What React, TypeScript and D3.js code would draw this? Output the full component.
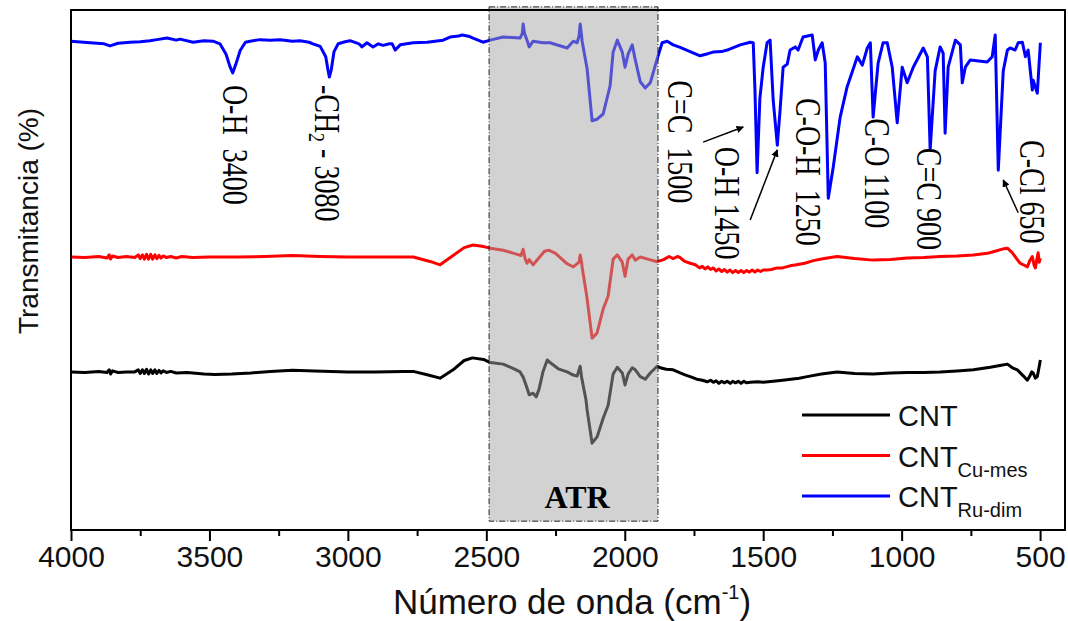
import React, { useRef, useEffect } from "react";
import * as d3 from "d3";

// wavenumber (cm-1), transmittance (a.u., offset per curve)
const cntData: [number, number][] = [
  [4000, 30.4], [3950, 30.3], [3900, 30.5], [3870, 30.3], [3862, 30.8], [3857, 30.0], [3850, 30.6],
  [3830, 30.3], [3800, 30.4], [3770, 30.4], [3757, 30.8], [3750, 30.1], [3742, 30.8], [3735, 30.1],
  [3727, 30.9], [3720, 30.0], [3712, 30.8], [3705, 30.1], [3697, 30.8], [3690, 30.1], [3682, 30.7],
  [3675, 30.2], [3667, 30.6], [3655, 30.3], [3640, 30.5], [3620, 30.2], [3580, 30.3], [3520, 30.0],
  [3480, 29.9], [3420, 30.0], [3350, 30.2], [3280, 30.5], [3200, 30.7], [3120, 30.6], [3000, 30.4],
  [2900, 30.4], [2800, 30.5], [2764, 30.5], [2710, 29.8], [2667, 29.2], [2620, 30.8], [2580, 32.6],
  [2550, 33.1], [2510, 32.8], [2486, 32.2], [2439, 31.9], [2400, 31.0], [2378, 30.4], [2367, 29.4],
  [2353, 27.3], [2345, 26.0], [2331, 26.3], [2320, 25.6], [2310, 27.0], [2295, 30.5], [2280, 32.7],
  [2270, 32.2], [2240, 31.0], [2208, 30.4], [2186, 29.8], [2172, 29.6], [2161, 31.5], [2156, 29.4],
  [2140, 25.0], [2136, 23.1], [2118, 16.7], [2100, 17.9], [2078, 21.5], [2060, 24.0], [2042, 30.0],
  [2027, 31.3], [2009, 30.2], [1999, 27.9], [1988, 30.0], [1973, 31.2], [1962, 30.8], [1944, 29.5],
  [1926, 29.0], [1908, 30.2], [1883, 31.5], [1872, 31.2], [1850, 30.9], [1825, 30.8], [1800, 30.2],
  [1780, 29.8], [1764, 29.5], [1740, 29.0], [1720, 28.8], [1702, 28.5], [1690, 28.8], [1680, 28.4],
  [1670, 28.7], [1660, 28.2], [1650, 28.6], [1640, 28.3], [1630, 28.6], [1619, 28.2], [1610, 28.6],
  [1600, 28.3], [1590, 28.6], [1580, 28.2], [1570, 28.6], [1560, 28.3], [1547, 28.4], [1520, 28.5],
  [1500, 28.4], [1464, 28.6], [1430, 28.8], [1400, 29.0], [1370, 29.2], [1341, 29.5], [1290, 30.0],
  [1233, 30.4], [1170, 30.1], [1103, 30.0], [1040, 30.2], [980, 30.3], [920, 30.3], [861, 30.4],
  [800, 30.6], [741, 30.8], [680, 31.3], [640, 31.7], [618, 31.9], [600, 31.2], [582, 30.8],
  [560, 29.6], [546, 28.8], [537, 29.6], [530, 30.4], [525, 30.2], [517, 29.2], [510, 29.5],
  [503, 31.5], [499, 32.7],
];

const cuMesData: [number, number][] = [
  [4000, 52.5], [3950, 52.4], [3900, 52.6], [3870, 52.3], [3862, 52.9], [3857, 52.1], [3850, 52.7],
  [3830, 52.4], [3800, 52.6], [3770, 52.4], [3757, 52.9], [3750, 52.2], [3742, 52.9], [3735, 52.1],
  [3727, 53.0], [3720, 52.1], [3712, 53.0], [3705, 52.1], [3697, 52.9], [3690, 52.2], [3682, 52.8],
  [3675, 52.3], [3667, 52.7], [3655, 52.4], [3640, 52.6], [3620, 52.3], [3600, 52.6], [3560, 52.4],
  [3500, 52.5], [3400, 52.5], [3300, 52.6], [3200, 52.8], [3100, 52.6], [3000, 52.5], [2900, 52.5],
  [2800, 52.5], [2764, 52.5], [2700, 51.6], [2667, 51.0], [2620, 52.8], [2580, 54.3], [2548, 54.8],
  [2510, 54.5], [2486, 54.2], [2439, 53.8], [2400, 53.2], [2375, 52.8], [2367, 54.0], [2360, 52.2],
  [2353, 51.3], [2345, 52.0], [2331, 51.0], [2290, 53.6], [2275, 53.8], [2250, 53.2], [2208, 51.2],
  [2186, 50.6], [2165, 51.5], [2161, 52.9], [2156, 51.5], [2154, 50.6], [2136, 44.5], [2118, 36.9],
  [2100, 37.9], [2078, 42.5], [2060, 45.0], [2042, 52.1], [2027, 52.9], [2009, 51.5], [1999, 48.8],
  [1988, 52.1], [1973, 52.9], [1962, 51.9], [1944, 52.5], [1910, 52.0], [1883, 51.6], [1860, 52.0],
  [1840, 52.6], [1825, 52.2], [1810, 52.6], [1800, 52.4], [1785, 51.7], [1764, 51.3], [1745, 51.0],
  [1730, 50.4], [1720, 50.7], [1710, 50.2], [1700, 50.6], [1690, 50.1], [1680, 50.4], [1670, 49.8],
  [1660, 50.2], [1650, 49.7], [1640, 50.1], [1630, 49.6], [1620, 50.0], [1610, 49.5], [1600, 49.9],
  [1590, 49.5], [1580, 49.9], [1570, 49.5], [1560, 49.9], [1550, 49.6], [1540, 50.0], [1530, 49.6],
  [1520, 50.0], [1510, 49.7], [1500, 50.0], [1486, 50.0], [1470, 50.1], [1450, 50.4], [1430, 50.4],
  [1403, 50.8], [1380, 51.0], [1350, 51.3], [1319, 51.8], [1280, 52.2], [1233, 52.6], [1170, 52.2],
  [1103, 51.9], [1040, 52.0], [980, 52.3], [920, 52.4], [861, 52.6], [800, 52.7], [741, 52.9],
  [690, 53.2], [669, 53.5], [630, 54.1], [618, 54.2], [600, 53.3], [585, 52.2], [572, 51.3],
  [560, 51.0], [546, 50.6], [537, 51.8], [528, 52.6], [522, 51.0], [517, 50.4], [512, 52.0],
  [507, 53.3], [503, 51.5], [499, 52.3],
];

const ruDimData: [number, number][] = [
  [4000, 94.0], [3931, 93.7], [3880, 93.5], [3859, 93.1], [3830, 93.6], [3787, 93.8], [3750, 93.9],
  [3715, 94.1], [3690, 94.3], [3653, 94.6], [3620, 94.2], [3606, 94.4], [3559, 93.8], [3520, 94.1],
  [3487, 94.0], [3462, 93.5], [3440, 91.5], [3425, 89.0], [3416, 87.9], [3405, 89.5], [3389, 92.2],
  [3370, 93.8], [3353, 94.0], [3317, 94.3], [3280, 94.2], [3245, 94.3], [3200, 94.0], [3173, 94.1],
  [3140, 93.8], [3126, 93.5], [3100, 93.0], [3080, 91.0], [3072, 88.5], [3067, 87.1], [3060, 88.5],
  [3050, 92.0], [3035, 93.5], [3010, 93.9], [2992, 94.1], [2960, 93.5], [2949, 92.9], [2931, 93.7],
  [2909, 92.9], [2890, 93.5], [2873, 93.2], [2850, 93.5], [2840, 93.5], [2829, 92.3], [2811, 93.3],
  [2764, 93.7], [2714, 93.8], [2656, 94.2], [2631, 94.8], [2600, 95.0], [2587, 95.2], [2560, 94.9],
  [2548, 94.6], [2512, 93.8], [2486, 94.2], [2439, 94.8], [2378, 94.6], [2370, 95.5], [2367, 97.3],
  [2362, 95.5], [2353, 94.2], [2345, 92.9], [2331, 94.0], [2295, 93.7], [2270, 93.7], [2208, 92.7],
  [2186, 94.0], [2172, 93.7], [2165, 95.0], [2161, 97.3], [2156, 95.0], [2154, 94.0], [2136, 88.7],
  [2118, 78.7], [2100, 79.0], [2078, 80.0], [2053, 85.4], [2042, 91.9], [2027, 94.2], [2009, 91.9],
  [1999, 89.0], [1988, 91.5], [1973, 93.3], [1962, 90.4], [1944, 86.2], [1926, 85.0], [1908, 86.0],
  [1883, 90.6], [1865, 93.7], [1847, 94.0], [1825, 93.3], [1800, 92.8], [1764, 92.0], [1728, 91.2],
  [1700, 91.6], [1681, 91.9], [1650, 92.0], [1630, 92.3], [1583, 93.3], [1547, 93.8], [1536, 93.7],
  [1530, 85.0], [1522, 68.7], [1512, 83.0], [1500, 89.0], [1486, 93.7], [1475, 94.2], [1464, 82.7],
  [1449, 74.0], [1439, 80.8], [1428, 89.0], [1413, 89.6], [1403, 92.3], [1384, 92.9], [1374, 92.3],
  [1356, 94.8], [1323, 95.2], [1312, 90.4], [1301, 92.3], [1287, 93.7], [1276, 89.8], [1265, 63.8],
  [1247, 69.8], [1222, 79.4], [1197, 85.2], [1160, 91.0], [1142, 89.4], [1124, 92.7], [1113, 93.7],
  [1103, 79.4], [1085, 89.8], [1067, 93.7], [1052, 93.7], [1034, 89.0], [1016, 78.3], [998, 89.0],
  [980, 86.0], [958, 89.0], [922, 92.7], [907, 91.0], [897, 73.1], [879, 88.3], [861, 92.9],
  [850, 91.7], [843, 76.3], [832, 89.0], [806, 94.2], [788, 93.3], [781, 86.0], [770, 89.0],
  [752, 90.4], [691, 90.0], [673, 91.0], [662, 95.2], [651, 69.2], [633, 88.3], [618, 92.3],
  [608, 92.7], [590, 92.3], [579, 93.7], [564, 93.8], [553, 91.0], [543, 92.3], [528, 84.6],
  [525, 86.5], [510, 84.0], [499, 93.7],
];

const xTicks = [4000, 3500, 3000, 2500, 2000, 1500, 1000, 500];
const xMinorTicks = [3750, 3250, 2750, 2250, 1750, 1250, 750];

// peak labels: [main text, subscript, rest], position (wavenumber, top value)
const peakLabels = [
  { text: "O-H  3400", sub: "", rest: "", wn: 3408, top: 85.6 },
  { text: "-CH", sub: "2", rest: " - 3080", wn: 3075, top: 85.6 },
  { text: "C=C  1500", sub: "", rest: "", wn: 1800, top: 86.5 },
  { text: "O-H 1450", sub: "", rest: "", wn: 1630, top: 73.7 },
  { text: "C-O-H  1250", sub: "", rest: "", wn: 1337, top: 83.1 },
  { text: "C-O 1100", sub: "", rest: "", wn: 1088, top: 79.2 },
  { text: "C=C 900", sub: "", rest: "", wn: 900, top: 73.5 },
  { text: "C-Cl 650", sub: "", rest: "", wn: 528, top: 75.0 },
];

const arrows = [
  { from: [1717, 74.6], to: [1572, 77.5] },
  { from: [1547, 59.6], to: [1449, 73.1] },
  { from: [579, 61.0], to: [633, 67.3] },
];

const atrRange = [2490, 1880];

const series = [
  { name: "CNT", sub: "", color: "#000000", data: cntData },
  { name: "CNT", sub: "Cu-mes", color: "#ff0000", data: cuMesData },
  { name: "CNT", sub: "Ru-dim", color: "#0000ff", data: ruDimData },
];

const App = () => {
  const svgRef = useRef<SVGSVGElement>(null);

  useEffect(() => {
    const svg = d3.select(svgRef.current);
    svg.selectAll("*").remove();

    const width = 1068;
    const height = 621;
    const left = 71;
    const right = 1065;
    const top = 10;
    const bottom = 530;

    const x = d3.scaleLinear().domain([4000, 410]).range([left, right]);
    const y = d3.scaleLinear().domain([0, 100]).range([bottom, top]);

    svg.attr("width", width).attr("height", height);

    const sans = "'Liberation Sans', Arial, sans-serif";
    const serif = "'Liberation Serif', 'Times New Roman', serif";

    const defs = svg.append("defs");
    defs
      .append("marker")
      .attr("id", "arr")
      .attr("viewBox", "0 0 10 10")
      .attr("refX", 9)
      .attr("refY", 5)
      .attr("markerWidth", 5)
      .attr("markerHeight", 5)
      .attr("markerUnits", "strokeWidth")
      .attr("orient", "auto")
      .append("path")
      .attr("d", "M0,0 L10,5 L0,10 Z")
      .attr("fill", "#000");

    // curves
    const line = d3
      .line<[number, number]>()
      .x((d) => x(d[0]))
      .y((d) => y(d[1]));

    series.forEach((s) => {
      svg
        .append("path")
        .datum(s.data)
        .attr("fill", "none")
        .attr("stroke", s.color)
        .attr("stroke-width", 3)
        .attr("stroke-linejoin", "round")
        .attr("d", line);
    });

    // ATR shaded box
    svg
      .append("rect")
      .attr("x", x(atrRange[0]))
      .attr("y", y(100.6))
      .attr("width", x(atrRange[1]) - x(atrRange[0]))
      .attr("height", y(1.7) - y(100.6))
      .attr("fill", "#a6a6a6")
      .attr("fill-opacity", 0.5)
      .attr("stroke", "#222")
      .attr("stroke-width", 1)
      .attr("stroke-dasharray", "6,2,1,2");

    svg
      .append("text")
      .attr("x", x(2172))
      .attr("y", y(4.2))
      .attr("text-anchor", "middle")
      .attr("font-family", serif)
      .attr("font-weight", "bold")
      .attr("font-size", 32)
      .text("ATR");

    // frame
    svg
      .append("rect")
      .attr("x", left)
      .attr("y", top)
      .attr("width", right - left)
      .attr("height", bottom - top)
      .attr("fill", "none")
      .attr("stroke", "#000")
      .attr("stroke-width", 2);

    // x axis
    const xAxis = d3
      .axisBottom(x)
      .tickValues(xTicks)
      .tickSize(11)
      .tickPadding(5)
      .tickFormat(d3.format("d"));
    const gx = svg.append("g").attr("transform", `translate(0,${bottom})`).call(xAxis);
    gx.select(".domain").remove();
    gx.selectAll(".tick line").attr("stroke", "#000").attr("stroke-width", 2);
    gx.selectAll(".tick text")
      .attr("font-family", sans)
      .attr("font-size", 30)
      .attr("fill", "#111");

    const gxm = svg
      .append("g")
      .attr("transform", `translate(0,${bottom})`)
      .call(d3.axisBottom(x).tickValues(xMinorTicks).tickSize(6).tickFormat(() => ""));
    gxm.select(".domain").remove();
    gxm.selectAll(".tick line").attr("stroke", "#000").attr("stroke-width", 2);

    // axis titles
    const xt = svg
      .append("text")
      .attr("x", 572)
      .attr("y", 614)
      .attr("text-anchor", "middle")
      .attr("font-family", sans)
      .attr("font-size", 35)
      .attr("fill", "#111");
    xt.append("tspan").text("Número de onda (cm");
    xt.append("tspan").attr("font-size", 20).attr("dy", -15).text("-1");
    xt.append("tspan").attr("dy", 15).text(")");

    svg
      .append("text")
      .attr("transform", "translate(38,221) rotate(-90)")
      .attr("text-anchor", "middle")
      .attr("font-family", sans)
      .attr("font-size", 28)
      .attr("fill", "#111")
      .text("Transmitancia (%)");

    // peak labels
    peakLabels.forEach((p) => {
      const t = svg
        .append("text")
        .attr("transform", `translate(${x(p.wn)},${y(p.top)}) rotate(90) scale(1,1.3)`)
        .attr("font-family", serif)
        .attr("font-size", 28)
        .attr("dominant-baseline", "central")
        .style("white-space", "pre")
        .attr("fill", "#000");
      t.append("tspan").text(p.text);
      if (p.sub) {
        t.append("tspan").attr("font-size", 18).attr("dy", 8).text(p.sub);
        t.append("tspan").attr("dy", -8).text(p.rest);
      }
    });

    // arrows
    arrows.forEach((a) => {
      svg
        .append("line")
        .attr("x1", x(a.from[0]))
        .attr("y1", y(a.from[1]))
        .attr("x2", x(a.to[0]))
        .attr("y2", y(a.to[1]))
        .attr("stroke", "#000")
        .attr("stroke-width", 1.5)
        .attr("marker-end", "url(#arr)");
    });

    // legend
    const legend = svg.append("g").attr("transform", "translate(802,415)");
    series.forEach((s, i) => {
      const row = legend.append("g").attr("transform", `translate(0,${i * 40.5})`);
      row
        .append("line")
        .attr("x1", 0)
        .attr("x2", 88)
        .attr("stroke", s.color)
        .attr("stroke-width", 3);
      const t = row
        .append("text")
        .attr("x", 96)
        .attr("y", 11)
        .attr("font-family", sans)
        .attr("font-size", 29)
        .attr("fill", "#111");
      t.append("tspan").text(s.name);
      if (s.sub) t.append("tspan").attr("font-size", 20).attr("dy", 10).text(s.sub);
    });
  }, []);

  return (
    <svg
      ref={svgRef}
      style={{ position: "absolute", left: 0, top: 0, display: "block", background: "#fff" }}
    />
  );
};

export default App;
